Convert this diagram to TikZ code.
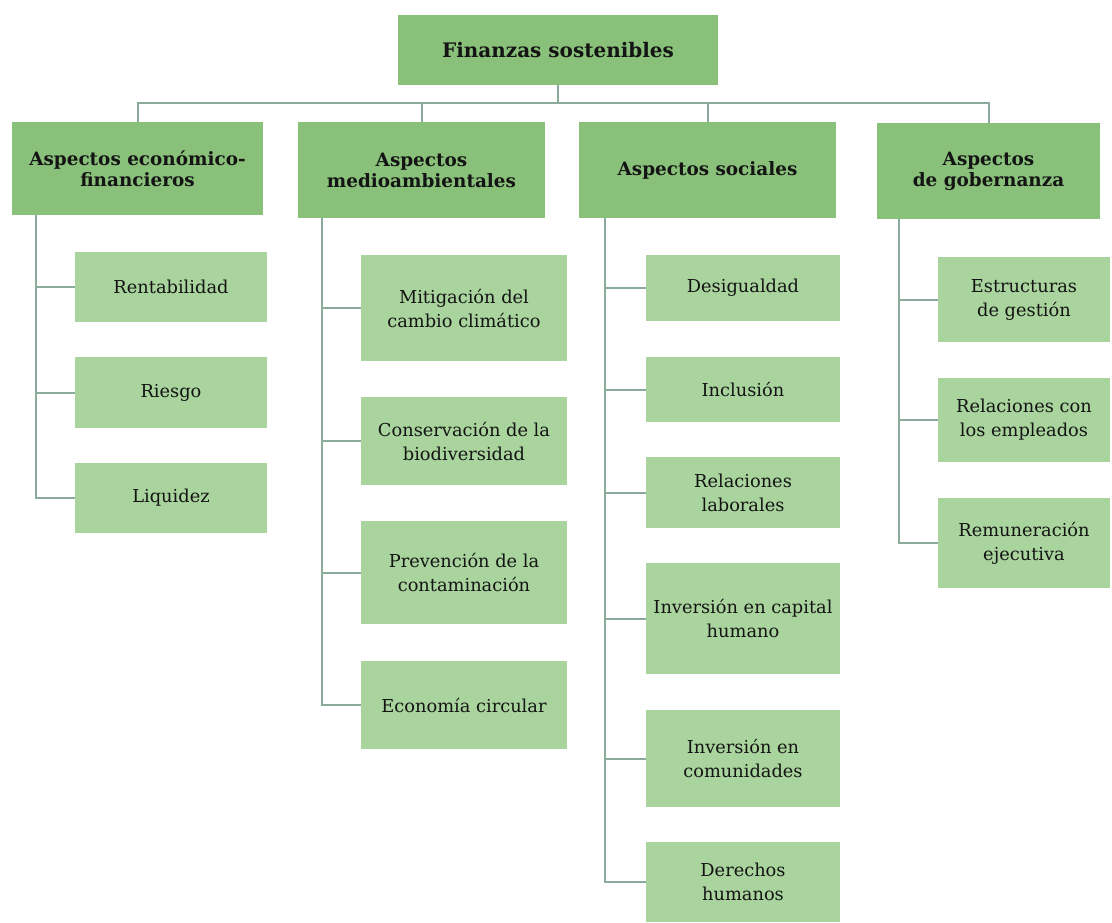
\documentclass[tikz,border=0pt]{standalone}
\usepackage{fontspec}
\setmainfont{DejaVu Serif}
\usetikzlibrary{calc}
\definecolor{dkgreen}{HTML}{89C17A}
\definecolor{ltgreen}{HTML}{A9D49D}
\definecolor{linecol}{HTML}{8AAA9A}
\definecolor{txtcol}{HTML}{141414}
\tikzset{
  box/.style={draw=none, inner sep=0pt, outer sep=0pt, align=center, text=txtcol},
  topbox/.style={box, fill=dkgreen, font=\fontsize{20}{24}\selectfont\bfseries},
  lvlbox/.style={box, fill=dkgreen, font=\fontsize{18.4}{21}\selectfont\bfseries},
  leafbox/.style={box, fill=ltgreen, font=\fontsize{17.8}{24}\selectfont},
  conn/.style={draw=linecol, line width=2pt}
}
\begin{document}
\begin{tikzpicture}[x=1pt,y=-1pt]
\useasboundingbox (0,0) rectangle (1112,922);
% top
\node[topbox, minimum width=320pt, minimum height=70pt] (top) at (558,50) {Finanzas sostenibles};
% level 1
\node[lvlbox, minimum width=251pt, minimum height=93pt] (a) at (137.5,168.5) {Aspectos económico-\\financieros};
\node[lvlbox, minimum width=247pt, minimum height=96pt] (b) at (421.5,170) {Aspectos\\medioambientales};
\node[lvlbox, minimum width=257pt, minimum height=96pt] (c) at (707.5,170) {Aspectos sociales};
\node[lvlbox, minimum width=223pt, minimum height=96pt] (d) at (988.5,171) {Aspectos\\de gobernanza};
% column 1
\node[leafbox, minimum width=192pt, minimum height=70pt] (a1) at (171,287) {Rentabilidad};
\node[leafbox, minimum width=192pt, minimum height=71pt] (a2) at (171,392.5) {Riesgo};
\node[leafbox, minimum width=192pt, minimum height=70pt] (a3) at (171,498) {Liquidez};
% column 2
\node[leafbox, minimum width=206pt, minimum height=106pt] (b1) at (464,308) {Mitigación del\\cambio climático};
\node[leafbox, minimum width=206pt, minimum height=88pt] (b2) at (464,441) {Conservación de la\\biodiversidad};
\node[leafbox, minimum width=206pt, minimum height=103pt] (b3) at (464,572.5) {Prevención de la\\contaminación};
\node[leafbox, minimum width=206pt, minimum height=88pt] (b4) at (464,705) {Economía circular};
% column 3
\node[leafbox, minimum width=194pt, minimum height=66pt] (c1) at (743,288) {Desigualdad};
\node[leafbox, minimum width=194pt, minimum height=65pt] (c2) at (743,389.5) {Inclusión};
\node[leafbox, minimum width=194pt, minimum height=71pt] (c3) at (743,492.5) {Relaciones\\laborales};
\node[leafbox, minimum width=194pt, minimum height=111pt] (c4) at (743,618.5) {Inversión en capital\\humano};
\node[leafbox, minimum width=194pt, minimum height=97pt] (c5) at (743,758.5) {Inversión en\\comunidades};
\node[leafbox, minimum width=194pt, minimum height=80pt] (c6) at (743,882) {Derechos\\humanos};
% column 4
\node[leafbox, minimum width=172pt, minimum height=85pt] (d1) at (1024,299.5) {Estructuras\\de gestión};
\node[leafbox, minimum width=172pt, minimum height=84pt] (d2) at (1024,420) {Relaciones con\\los empleados};
\node[leafbox, minimum width=172pt, minimum height=90pt] (d3) at (1024,543) {Remuneración\\ejecutiva};
% bus
\coordinate (busy) at (0,103);
\draw[conn] (top.south) -- (top.south |- busy);
\draw[conn] (a.north) -- (a.north |- busy) -- (d.north |- busy) -- (d.north);
\draw[conn] (b.north) -- (b.north |- busy);
\draw[conn] (c.north) -- (c.north |- busy);
% spines
\coordinate (s1) at ($(a.south west)+(24,0)$);
\coordinate (s2) at ($(b.south west)+(24,0)$);
\coordinate (s3) at ($(c.south west)+(26,0)$);
\coordinate (s4) at ($(d.south west)+(22,0)$);
\foreach \n in {a1,a2,a3} {\draw[conn] (s1) |- (\n.west);}
\foreach \n in {b1,b2,b3,b4} {\draw[conn] (s2) |- (\n.west);}
\foreach \n in {c1,c2,c3,c4,c5,c6} {\draw[conn] (s3) |- (\n.west);}
\foreach \n in {d1,d2,d3} {\draw[conn] (s4) |- (\n.west);}
\end{tikzpicture}
\end{document}
